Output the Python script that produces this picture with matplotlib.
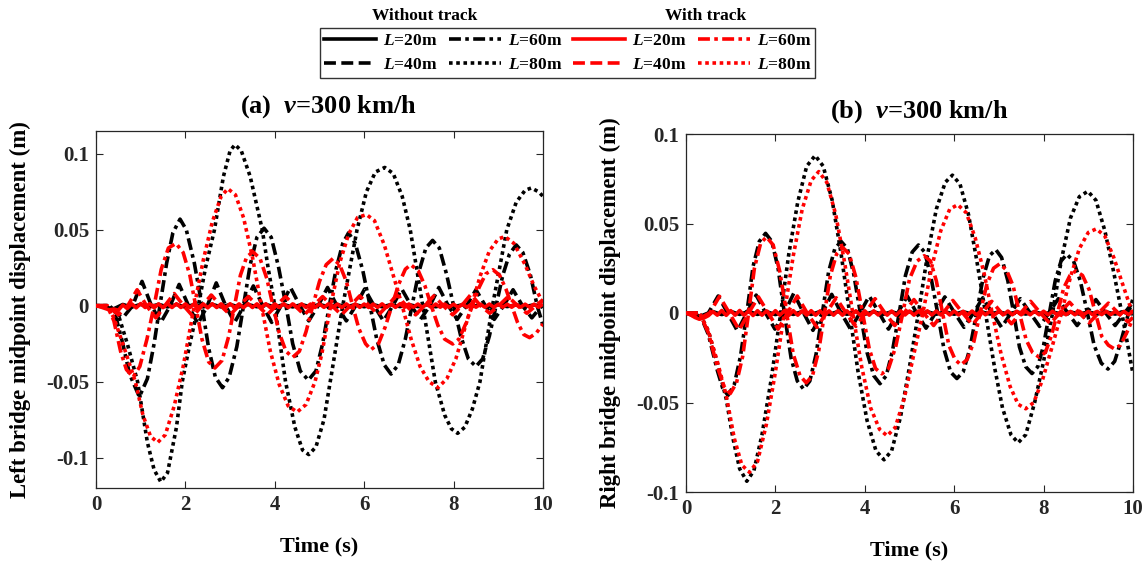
import matplotlib
matplotlib.use("Agg")
import matplotlib.pyplot as plt
from matplotlib.lines import Line2D

# ---------------- data ----------------
time_ticks = [0, 2, 4, 6, 8, 10]

# ---- (a) left bridge ----
a_b80 = [(0, 0), (0.3, 0), (0.5, -0.006), (0.7, -0.025), (0.93, -0.05), (1.15, -0.09), (1.3, -0.108),
         (1.45, -0.116), (1.6, -0.11), (1.8, -0.08), (1.93, -0.05), (2.1, -0.025), (2.29, 0), (2.45, 0.025),
         (2.65, 0.05), (2.85, 0.085), (3.0, 0.102), (3.11, 0.106), (3.25, 0.102), (3.45, 0.085), (3.72, 0.05),
         (3.85, 0.025), (4.0, 0), (4.12, -0.025), (4.24, -0.05), (4.45, -0.08), (4.62, -0.095), (4.76, -0.098),
         (4.92, -0.093), (5.1, -0.075), (5.24, -0.05), (5.38, -0.025), (5.52, 0), (5.68, 0.025), (5.84, 0.05),
         (6.05, 0.075), (6.25, 0.088), (6.46, 0.091), (6.65, 0.087), (6.85, 0.072), (7.03, 0.05), (7.17, 0.025),
         (7.31, 0), (7.45, -0.025), (7.59, -0.05), (7.8, -0.072), (7.95, -0.081), (8.09, -0.084), (8.25, -0.08),
         (8.42, -0.068), (8.59, -0.05), (8.73, -0.025), (8.87, 0), (9.03, 0.025), (9.19, 0.05), (9.4, 0.068),
         (9.6, 0.076), (9.74, 0.0775), (9.9, 0.075), (10, 0.072)]
a_r80 = [(0, 0), (0.25, 0), (0.4, -0.008), (0.6, -0.025), (0.88, -0.05), (1.05, -0.072), (1.22, -0.086),
         (1.38, -0.090), (1.55, -0.085), (1.75, -0.066), (1.95, -0.04), (2.2, 0), (2.4, 0.03), (2.6, 0.055),
         (2.8, 0.072), (2.95, 0.077), (3.12, 0.073), (3.3, 0.058), (3.5, 0.032), (3.7, 0), (3.9, -0.03),
         (4.1, -0.052), (4.3, -0.066), (4.5, -0.070), (4.7, -0.065), (4.9, -0.05), (5.05, -0.032), (5.25, 0),
         (5.45, 0.028), (5.65, 0.047), (5.85, 0.058), (6.05, 0.060), (6.23, 0.056), (6.45, 0.04), (6.65, 0.02),
         (6.85, 0), (7.05, -0.022), (7.25, -0.04), (7.45, -0.05), (7.65, -0.054), (7.85, -0.048), (8.05, -0.035),
         (8.2, -0.02), (8.4, 0), (8.6, 0.02), (8.8, 0.036), (9.0, 0.044), (9.15, 0.0455), (9.35, 0.041),
         (9.6, 0.027), (9.8, 0.013), (10, 0.002)]
a_b60 = [(0, 0), (0.3, 0), (0.45, -0.008), (0.6, -0.025), (0.75, -0.045), (0.97, -0.060), (1.15, -0.048),
         (1.3, -0.025), (1.43, 0), (1.58, 0.028), (1.72, 0.048), (1.88, 0.057), (2.02, 0.05), (2.2, 0.028),
         (2.37, 0), (2.52, -0.028), (2.67, -0.047), (2.83, -0.054), (2.98, -0.047), (3.15, -0.027), (3.3, 0),
         (3.45, 0.027), (3.6, 0.045), (3.76, 0.051), (3.92, 0.045), (4.08, 0.026), (4.25, 0), (4.4, -0.025),
         (4.57, -0.043), (4.75, -0.049), (4.92, -0.043), (5.07, -0.025), (5.22, 0), (5.37, 0.024), (5.52, 0.041),
         (5.65, 0.048), (5.8, 0.041), (5.97, 0.023), (6.13, 0), (6.28, -0.022), (6.45, -0.039), (6.6, -0.045),
         (6.76, -0.039), (6.92, -0.022), (7.07, 0), (7.22, 0.022), (7.38, 0.038), (7.53, 0.043), (7.68, 0.038),
         (7.84, 0.021), (8.0, 0), (8.16, -0.02), (8.33, -0.035), (8.5, -0.040), (8.65, -0.035), (8.8, -0.02),
         (8.95, 0), (9.1, 0.02), (9.25, 0.034), (9.4, 0.040), (9.55, 0.035), (9.72, 0.02), (9.87, 0), (10, -0.013)]
a_r60 = [(0, 0), (0.25, 0), (0.4, -0.01), (0.55, -0.03), (0.68, -0.042), (0.83, -0.047), (0.98, -0.04),
         (1.14, -0.022), (1.3, 0), (1.46, 0.024), (1.62, 0.038), (1.79, 0.041), (1.95, 0.035), (2.1, 0.02),
         (2.23, 0), (2.37, -0.022), (2.52, -0.037), (2.66, -0.041), (2.82, -0.036), (2.97, -0.02), (3.1, 0),
         (3.23, 0.02), (3.37, 0.032), (3.51, 0.0355), (3.67, 0.031), (3.82, 0.018), (3.96, 0), (4.1, -0.018),
         (4.25, -0.03), (4.4, -0.034), (4.55, -0.03), (4.7, -0.017), (4.85, 0), (5.0, 0.016), (5.15, 0.027),
         (5.3, 0.031), (5.45, 0.027), (5.6, 0.016), (5.74, 0), (5.88, -0.015), (6.03, -0.025), (6.15, -0.029),
         (6.32, -0.025), (6.47, -0.014), (6.62, 0), (6.77, 0.014), (6.92, 0.024), (7.04, 0.027), (7.21, 0.023),
         (7.36, 0.013), (7.5, 0), (7.65, -0.013), (7.8, -0.022), (7.98, -0.0252), (8.12, -0.022), (8.27, -0.012),
         (8.42, 0), (8.57, 0.012), (8.72, 0.021), (8.88, 0.0237), (9.03, 0.02), (9.17, 0.011), (9.3, 0),
         (9.43, -0.011), (9.57, -0.019), (9.7, -0.021), (9.85, -0.018), (10, -0.012)]
a_b40_t = [0, 0.3, 0.45, 0.6, 0.82, 1.03, 1.24, 1.45, 1.66, 1.86, 2.07, 2.28, 2.49, 2.69, 2.9, 3.1, 3.31,
           3.52, 3.73, 3.93, 4.14, 4.35, 4.56, 4.76, 4.97, 5.18, 5.39, 5.6, 5.81, 6.01, 6.22, 6.43, 6.64, 6.84,
           7.05, 7.26, 7.47, 7.67, 7.88, 8.08, 8.29, 8.5, 8.71, 8.91, 9.12, 9.33, 9.54, 9.75, 10.0]
a_b40_y = [0, 0, -0.005, -0.008, 0, 0.016, 0, -0.011, 0, 0.014, 0, -0.012, 0, 0.015, 0, -0.011, 0, 0.013,
           0, -0.011, 0, 0.012, 0, -0.010, 0, 0.012, 0, -0.010, 0, 0.011, 0, -0.010, 0, 0.011, 0, -0.009, 0,
           0.012, 0, -0.009, 0, 0.0105, 0, -0.009, 0, 0.0105, 0, -0.008, 0.001]
a_r40_t = [0, 0.25, 0.5, 0.71, 0.92, 1.13, 1.34, 1.54, 1.75, 1.96, 2.17, 2.37, 2.58, 2.79, 3.0, 3.2, 3.41,
           3.62, 3.83, 4.03, 4.24, 4.45, 4.66, 4.86, 5.07, 5.28, 5.49, 5.69, 5.9, 6.11, 6.32, 6.52, 6.73, 6.94,
           7.15, 7.35, 7.56, 7.77, 7.98, 8.18, 8.39, 8.6, 8.81, 9.01, 9.22, 9.43, 9.64, 9.84, 10.0]
a_r40_y = [0, 0, -0.006, 0, 0.0105, 0, -0.008, 0, 0.008, 0, -0.007, 0, 0.007, 0, -0.006, 0, 0.006, 0,
           -0.006, 0, 0.006, 0, -0.006, 0, 0.006, 0, -0.006, 0, 0.0065, 0, -0.006, 0, 0.007, 0, -0.006, 0,
           0.0065, 0, -0.006, 0, 0.0075, 0, -0.005, 0, 0.006, 0, -0.005, 0, 0.004]
# L=20 m: small ripples, sampled every 0.1 s (red) / 0.2 s (black)
a_r20 = [0, -0.0008, -0.0018, -0.0028, -0.0022, -0.0030, 0.0005, -0.0018, 0.0012, -0.0014,
         0.0014, -0.0012, 0.0013, -0.0014, 0.0012, -0.0013, 0.0014, -0.0012, 0.0013, -0.0012,
         0.0012, -0.0013, 0.0014, -0.0012, 0.0012, -0.0014, 0.0013, -0.0012, 0.0012, -0.0013,
         0.0013, -0.0012, 0.0012, -0.0013, 0.0014, -0.0012, 0.0012, -0.0012, 0.0013, -0.0013,
         0.0012, -0.0012, 0.0013, -0.0012, 0.0012, -0.0013, 0.0012, -0.0012, 0.0011, -0.0012,
         0.0012, -0.0011, 0.0012, -0.0012, 0.0011, -0.0012, 0.0012, -0.0011, 0.0012, -0.0011,
         0.0011, -0.0012, 0.0011, -0.0011, 0.0012, -0.0011, 0.0011, -0.0011, 0.0012, -0.0011,
         0.0011, -0.0010, 0.0011, -0.0011, 0.0010, -0.0011, 0.0011, -0.0010, 0.0011, -0.0010,
         0.0010, -0.0011, 0.0010, -0.0010, 0.0011, -0.0010, 0.0010, -0.0010, 0.0011, -0.0010,
         0.0010, -0.0010, 0.0010, -0.0010, 0.0010, -0.0010, 0.0010, -0.0010, 0.0010, -0.0010,
         0.0010]
a_b20 = [0, -0.0010, -0.0020, 0.0008, -0.0009, 0.0009, -0.0008, 0.0009, -0.0008, 0.0008,
         -0.0009, 0.0008, -0.0008, 0.0009, -0.0008, 0.0008, -0.0008, 0.0008, -0.0007, 0.0008,
         -0.0008, 0.0007, -0.0008, 0.0007, -0.0007, 0.0008, -0.0007, 0.0007, -0.0007, 0.0007,
         -0.0007, 0.0007, -0.0007, 0.0007, -0.0006, 0.0007, -0.0006, 0.0006, -0.0007, 0.0006,
         -0.0006, 0.0006, -0.0006, 0.0006, -0.0006, 0.0006, -0.0006, 0.0006, -0.0006, 0.0006,
         -0.0006]

# ---- (b) right bridge ----
b_b80 = [(0, 0), (0.3, 0), (0.5, -0.01), (0.7, -0.028), (0.9, -0.048), (1.05, -0.07), (1.2, -0.087),
         (1.36, -0.094), (1.52, -0.088), (1.7, -0.068), (1.9, -0.038), (2.12, 0), (2.3, 0.033), (2.5, 0.062),
         (2.7, 0.082), (2.89, 0.088), (3.07, 0.082), (3.27, 0.063), (3.47, 0.033), (3.66, 0), (3.85, -0.033),
         (4.05, -0.06), (4.25, -0.077), (4.43, -0.082), (4.6, -0.077), (4.8, -0.058), (5.0, -0.03), (5.2, 0),
         (5.4, 0.032), (5.6, 0.058), (5.8, 0.073), (5.96, 0.077), (6.13, 0.072), (6.32, 0.055), (6.5, 0.03),
         (6.7, 0), (6.9, -0.03), (7.08, -0.053), (7.27, -0.068), (7.43, -0.0725), (7.6, -0.068), (7.8, -0.05),
         (8.0, -0.027), (8.2, 0), (8.4, 0.03), (8.6, 0.053), (8.8, 0.065), (8.99, 0.068), (9.17, 0.063),
         (9.37, 0.046), (9.55, 0.025), (9.75, 0), (10, -0.034)]
b_r80 = [(0, 0), (0.3, 0), (0.5, -0.01), (0.7, -0.027), (0.9, -0.046), (1.08, -0.07), (1.25, -0.085),
         (1.42, -0.089), (1.6, -0.083), (1.8, -0.062), (2.0, -0.033), (2.2, 0), (2.4, 0.032), (2.6, 0.058),
         (2.8, 0.074), (2.97, 0.079), (3.15, 0.073), (3.35, 0.055), (3.55, 0.028), (3.73, 0), (3.93, -0.03),
         (4.13, -0.053), (4.33, -0.065), (4.5, -0.0686), (4.68, -0.064), (4.88, -0.048), (5.08, -0.025),
         (5.3, 0), (5.5, 0.026), (5.7, 0.046), (5.9, 0.058), (6.08, 0.0605), (6.27, 0.056), (6.47, 0.042),
         (6.67, 0.022), (6.85, 0), (7.05, -0.023), (7.25, -0.041), (7.43, -0.051), (7.6, -0.0535),
         (7.78, -0.05), (7.98, -0.037), (8.2, -0.018), (8.4, 0), (8.6, 0.02), (8.8, 0.036), (9.0, 0.045),
         (9.18, 0.047), (9.37, 0.043), (9.57, 0.031), (9.77, 0.016), (10, -0.001)]
b_b60 = [(0, 0), (0.3, 0), (0.5, -0.012), (0.7, -0.032), (0.82, -0.042), (0.94, -0.046), (1.08, -0.04),
         (1.22, -0.024), (1.36, 0), (1.5, 0.026), (1.64, 0.04), (1.78, 0.0445), (1.92, 0.04), (2.06, 0.025),
         (2.2, 0), (2.35, -0.025), (2.49, -0.038), (2.63, -0.0425), (2.77, -0.038), (2.91, -0.023), (3.05, 0),
         (3.19, 0.023), (3.33, 0.036), (3.47, 0.040), (3.61, 0.036), (3.75, 0.022), (3.9, 0), (4.05, -0.022),
         (4.2, -0.035), (4.34, -0.0395), (4.48, -0.035), (4.62, -0.021), (4.77, 0), (4.91, 0.021), (5.06, 0.034),
         (5.2, 0.038), (5.34, 0.034), (5.48, 0.02), (5.63, 0), (5.77, -0.02), (5.92, -0.033), (6.06, -0.0366),
         (6.2, -0.033), (6.35, -0.02), (6.5, 0), (6.65, 0.02), (6.79, 0.032), (6.93, 0.0354), (7.06, 0.031),
         (7.2, 0.018), (7.33, 0), (7.46, -0.019), (7.6, -0.03), (7.74, -0.0338), (7.87, -0.03), (8.0, -0.018),
         (8.13, 0), (8.26, 0.018), (8.39, 0.029), (8.52, 0.0328), (8.67, 0.029), (8.82, 0.018), (8.98, 0),
         (9.13, -0.018), (9.29, -0.028), (9.44, -0.0313), (9.59, -0.027), (9.74, -0.015), (9.9, 0), (10, 0.008)]
b_r60 = [(0, 0), (0.3, 0), (0.5, -0.011), (0.7, -0.03), (0.85, -0.041), (0.99, -0.045), (1.13, -0.039),
         (1.27, -0.024), (1.4, 0), (1.53, 0.025), (1.67, 0.039), (1.8, 0.0425), (1.95, 0.038), (2.1, 0.023),
         (2.25, 0), (2.4, -0.023), (2.55, -0.035), (2.69, -0.039), (2.83, -0.035), (2.97, -0.021), (3.1, 0),
         (3.23, 0.021), (3.37, 0.033), (3.51, 0.0365), (3.65, 0.033), (3.8, 0.02), (3.95, 0), (4.1, -0.02),
         (4.24, -0.031), (4.38, -0.034), (4.53, -0.031), (4.69, -0.019), (4.85, 0), (5.0, 0.019), (5.17, 0.029),
         (5.33, 0.032), (5.47, 0.029), (5.6, 0.018), (5.74, 0), (5.88, -0.018), (6.02, -0.026), (6.15, -0.029),
         (6.29, -0.026), (6.44, -0.016), (6.58, 0), (6.73, 0.016), (6.88, 0.025), (7.02, 0.0275), (7.17, 0.024),
         (7.32, 0.015), (7.46, 0), (7.61, -0.015), (7.75, -0.022), (7.9, -0.0247), (8.04, -0.022), (8.17, -0.013),
         (8.31, 0), (8.45, 0.014), (8.59, 0.021), (8.72, 0.0235), (8.87, 0.021), (9.02, 0.013), (9.16, 0),
         (9.3, -0.013), (9.45, -0.018), (9.58, -0.020), (9.72, -0.018), (9.86, -0.011), (10, -0.003)]
b_b40_t = [0, 0.3, 0.5, 0.72, 0.93, 1.15, 1.36, 1.57, 1.78, 1.99, 2.2, 2.41, 2.63, 2.84, 3.05, 3.26, 3.47,
           3.68, 3.89, 4.1, 4.32, 4.53, 4.74, 4.95, 5.16, 5.37, 5.58, 5.79, 6.01, 6.22, 6.43, 6.64, 6.85, 7.06,
           7.27, 7.48, 7.7, 7.91, 8.12, 8.33, 8.54, 8.75, 8.96, 9.17, 9.39, 9.6, 9.81, 10.0]
b_b40_y = [0, -0.002, 0, 0.0095, 0, -0.010, 0, 0.010, 0, -0.009, 0, 0.011, 0, -0.0097, 0, 0.0104, 0,
           -0.009, 0, 0.0095, 0, -0.009, 0, 0.0095, 0, -0.0085, 0, 0.009, 0, -0.008, 0, 0.0085, 0, -0.008, 0,
           0.008, 0, -0.0075, 0, 0.008, 0, -0.007, 0, 0.0075, 0, -0.007, 0, 0.006]
b_r40_t = [0, 0.3, 0.53, 0.75, 0.97, 1.19, 1.4, 1.62, 1.84, 2.06, 2.27, 2.49, 2.71, 2.93, 3.14, 3.36, 3.58,
           3.8, 4.01, 4.23, 4.45, 4.67, 4.88, 5.1, 5.32, 5.54, 5.75, 5.97, 6.19, 6.41, 6.62, 6.84, 7.06, 7.28,
           7.49, 7.71, 7.93, 8.15, 8.36, 8.58, 8.8, 9.02, 9.23, 9.45, 9.67, 9.89, 10.0]
b_r40_y = [0, -0.003, 0, 0.0093, 0, -0.0095, 0, 0.009, 0, -0.009, 0, 0.0095, 0, -0.008, 0, 0.0085, 0,
           -0.0075, 0, 0.008, 0, -0.007, 0, 0.0075, 0, -0.007, 0, 0.007, 0, -0.0065, 0, 0.0065, 0, -0.006, 0,
           0.0065, 0, -0.006, 0, 0.006, 0, -0.0055, 0, 0.0055, 0, -0.005, -0.0025]
b_r20 = [0, -0.0010, -0.0025, -0.0035, -0.0028, -0.0015, 0.0008, -0.0012, 0.0014, -0.0013,
         0.0013, -0.0012, 0.0014, -0.0013, 0.0012, -0.0014, 0.0013, -0.0012, 0.0012, -0.0013,
         0.0013, -0.0012, 0.0012, -0.0013, 0.0013, -0.0012, 0.0012, -0.0012, 0.0013, -0.0012,
         0.0012, -0.0013, 0.0012, -0.0012, 0.0013, -0.0012, 0.0012, -0.0012, 0.0012, -0.0013,
         0.0012, -0.0012, 0.0012, -0.0011, 0.0012, -0.0012, 0.0011, -0.0012, 0.0012, -0.0011,
         0.0011, -0.0012, 0.0011, -0.0011, 0.0012, -0.0011, 0.0011, -0.0011, 0.0011, -0.0011,
         0.0011, -0.0011, 0.0010, -0.0011, 0.0011, -0.0010, 0.0011, -0.0010, 0.0010, -0.0011,
         0.0010, -0.0010, 0.0011, -0.0010, 0.0010, -0.0010, 0.0010, -0.0010, 0.0010, -0.0010,
         0.0010, -0.0010, 0.0010, -0.0009, 0.0010, -0.0010, 0.0009, -0.0010, 0.0010, -0.0009,
         0.0009, -0.0010, 0.0009, -0.0009, 0.0010, -0.0009, 0.0009, -0.0009, 0.0009, -0.0009,
         0.0009]
b_b20 = [0, -0.0010, -0.0022, 0.0008, -0.0009, 0.0009, -0.0008, 0.0009, -0.0008, 0.0008,
         -0.0009, 0.0008, -0.0008, 0.0008, -0.0008, 0.0008, -0.0008, 0.0008, -0.0007, 0.0008,
         -0.0007, 0.0007, -0.0008, 0.0007, -0.0007, 0.0007, -0.0007, 0.0007, -0.0007, 0.0007,
         -0.0007, 0.0007, -0.0006, 0.0007, -0.0006, 0.0006, -0.0006, 0.0006, -0.0006, 0.0006,
         -0.0006, 0.0006, -0.0006, 0.0006, -0.0006, 0.0006, -0.0006, 0.0006, -0.0006, 0.0006,
         -0.0006]

legend_labels = ["$L$=20m", "$L$=40m", "$L$=60m", "$L$=80m"]
titles = ["(a)  $v$=300 km/h", "(b)  $v$=300 km/h"]
ylabels = ["Left bridge midpoint displacement (m)", "Right bridge midpoint displacement (m)"]
ylims = [(-0.12, 0.115), (-0.1, 0.1)]
yticks = [[-0.1, -0.05, 0, 0.05, 0.1], [-0.1, -0.05, 0, 0.05, 0.1]]
ytick_labels = ["-0.1", "-0.05", "0", "0.05", "0.1"]

# ---------------- style ----------------
plt.rcParams["font.family"] = ["Liberation Serif", "DejaVu Serif"]
plt.rcParams["font.weight"] = "bold"
plt.rcParams["axes.labelweight"] = "bold"
plt.rcParams["mathtext.fontset"] = "custom"
plt.rcParams["mathtext.rm"] = "Liberation Serif:bold"
plt.rcParams["mathtext.it"] = "Liberation Serif:italic:bold"
plt.rcParams["mathtext.bf"] = "Liberation Serif:bold"

LW = 2.6
BLACK, RED = "#000000", "#ff0000"
styles = {
    20: "-",
    40: (0, (3.3, 1.5)),
    60: (0, (3.3, 1.2, 1.0, 1.2)),
    80: (0, (1.0, 1.0)),
}
axcol = "#262626"

fig = plt.figure(figsize=(11.46, 5.63), dpi=100)
ax1 = fig.add_axes([96 / 1146, 1 - 488 / 563, 447 / 1146, 357 / 563])
ax2 = fig.add_axes([686 / 1146, 1 - 492 / 563, 447 / 1146, 358 / 563])


def pairs(p):
    return [q[0] for q in p], [q[1] for q in p]


def times(n, step):
    return [round(i * step, 2) for i in range(n)]


panel_data = [
    dict(b20=(times(len(a_b20), 0.2), a_b20), b40=(a_b40_t, a_b40_y), b60=pairs(a_b60), b80=pairs(a_b80),
         r20=(times(len(a_r20), 0.1), a_r20), r40=(a_r40_t, a_r40_y), r60=pairs(a_r60), r80=pairs(a_r80)),
    dict(b20=(times(len(b_b20), 0.2), b_b20), b40=(b_b40_t, b_b40_y), b60=pairs(b_b60), b80=pairs(b_b80),
         r20=(times(len(b_r20), 0.1), b_r20), r40=(b_r40_t, b_r40_y), r60=pairs(b_r60), r80=pairs(b_r80)),
]

title_y = [1 + 24 / 357, 1 + 22 / 358]
ylab_x = [(31 - 96) / 447, (621 - 686) / 447]

for k, (ax, d) in enumerate(zip([ax1, ax2], panel_data)):
    order = [("b", 80), ("b", 60), ("b", 40), ("b", 20), ("r", 80), ("r", 60), ("r", 40), ("r", 20)]
    for z, (c, L) in enumerate(order):
        t, y = d[f"{c}{L}"]
        ax.plot(t, y, color=BLACK if c == "b" else RED, lw=LW, linestyle=styles[L],
                zorder=2 + z, solid_capstyle="butt", dash_capstyle="butt")
    ax.set_xlim(0, 10)
    ax.set_ylim(*ylims[k])
    ax.set_xticks(time_ticks)
    ax.set_xticklabels([str(v) for v in time_ticks])
    ax.set_yticks(yticks[k])
    ax.set_yticklabels(ytick_labels)
    ax.tick_params(direction="in", length=5, width=0.8, top=True, right=True, labelsize=15,
                   colors=axcol, pad=5)
    for s in ax.spines.values():
        s.set_color(axcol)
        s.set_linewidth(0.9)
    ax.set_xlabel("Time (s)", fontsize=16, color="black", va="top")
    ax.xaxis.set_label_coords(0.5, -0.135)
    ax.set_ylabel(ylabels[k], fontsize=16.4, color="black")
    ax.yaxis.set_label_coords(ylab_x[k], 0.5)
    ax.text(0.521, title_y[k], titles[k], transform=ax.transAxes, ha="center", va="center",
            fontsize=19, fontweight="bold")

# legend
handles = []
labels = []
for c in [BLACK, RED]:
    for i, L in enumerate([20, 40, 60, 80]):
        handles.append(Line2D([], [], color=c, lw=LW, linestyle=styles[L]))
        labels.append(legend_labels[i])
leg = fig.legend(handles, labels, ncol=4, loc="center", bbox_to_anchor=(567.5 / 1146, 1 - 53 / 563),
                 frameon=True, fancybox=False, edgecolor="black", fontsize=12.5, handlelength=3.0,
                 handletextpad=0.4, columnspacing=0.65, labelspacing=0.5, borderpad=0.25,
                 borderaxespad=0)
leg.get_frame().set_linewidth(1.0)
fig.text(425 / 1146, 1 - 16 / 563, "Without track", ha="center", va="center", fontsize=12.5, fontweight="bold")
fig.text(706 / 1146, 1 - 16 / 563, "With track", ha="center", va="center", fontsize=12.5, fontweight="bold")

fig.savefig("out.png", dpi=100)
